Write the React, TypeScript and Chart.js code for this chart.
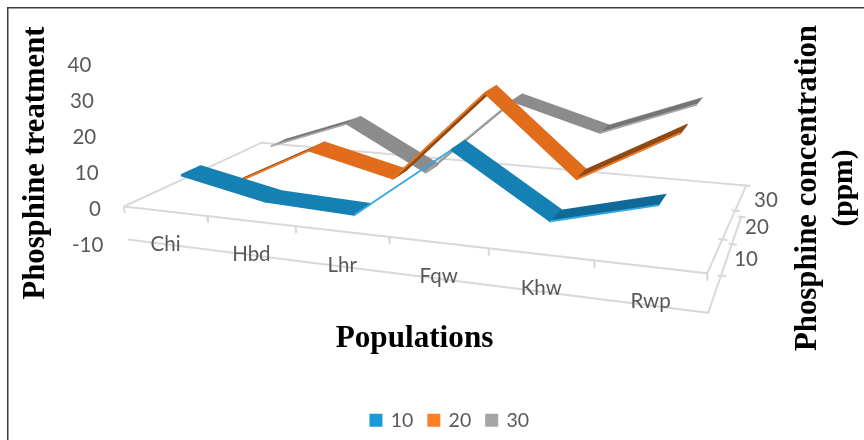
import React, { useEffect, useRef } from "react";
import { Chart, registerables } from "chart.js";

Chart.register(...registerables);

const categories = ["Chi", "Hbd", "Lhr", "Fqw", "Khw", "Rwp"];
const depthNames = ["10", "20", "30"];
const valueTicks = [40, 30, 20, 10, 0, -10];

const series10 = [8.6, 3.3, 2.3, 23.4, 6.3, 13.5];
const series20 = [-2, 11.9, 5.5, 34, 10.5, 26.3];
const series30 = [4.4, 14.4, 0.3, 26, 17.9, 28.8];

const legendColors = ["#1A9BD7", "#FD7F28", "#A5A5A5"];
const fallingShades = ["#1580B4", "#E06C1C", "#8C8C8C"];
const risingShades = ["#0F6A98", "#8F4A14", "#747474"];
const edgeShades = ["#35A8E0", "#F07A24", "#A8A8A8"];
const risingOutline = [0, 1.5, 0.5];

const GRID = "#D9D9D9";
const LABEL = "#595959";
const SANS = "Lato";
const SERIF = '"Liberation Serif"';

// Perspective mapping of the category/depth floor onto the canvas: u runs along
// the categories, v runs into the depth axis, h is the value above the floor.
const G = -0.1664;
const H = 0.2175;
function project(u: number, v: number, h: number) {
  const w = 1 + G * u + H * v;
  const x = (466.2 * u + 195 * v + 124) / w;
  const y = (21.6 * u - 33.1 * v + 206) / w;
  // Verticals lean differently above the floor and on the frame hanging below it.
  const lean = h >= 0 ? 0.02 + 0.25 * u * u : -(4 - 3 * u - 6 * v) / 10;
  return { x: x + lean * h, y: y - (3.3 * h) / w };
}

const uOf = (i: number) => (i + 0.5) / categories.length;

function baseLine(points: { x: number; y: number }[], width = 2, color = GRID) {
  return {
    data: points,
    borderColor: color,
    borderWidth: width,
    backgroundColor: color,
    pointRadius: 0,
    tension: 0,
    fill: false as const,
  };
}

function gridLines() {
  const sets = [
    baseLine([project(0, 0, 0), project(1, 0, 0), project(1, 1, 0), project(0, 1, 0), project(0, 0, 0)]),
    baseLine([project(0, 0, -10), project(1, 0, -10), project(1, 1, -10)]),
  ];
  categories.forEach((_, i) => {
    const u = i / categories.length;
    sets.push(baseLine([project(u, 0, 0), project(u, 0, -2)]));
  });
  sets.push(baseLine([project(1, 0, 0), project(1, 0, -2)]));
  depthNames.forEach((_, i) => {
    const v = (i + 1) / depthNames.length;
    sets.push(baseLine([project(0.994, v, 0), project(1.008, v, 0)]));
    sets.push(baseLine([project(0.994, v, -10), project(1.008, v, -10)]));
  });
  return sets;
}

// One ribbon per series, split into a shaded quad for every category step.
function ribbon(values: number[], index: number) {
  const mid = (index + 0.5) / depthNames.length;
  const front = mid - 0.066;
  const back = mid + 0.066;
  const sets: any[] = [];
  for (let i = 0; i < values.length - 1; i++) {
    const a = values[i];
    const b = values[i + 1];
    const rising = b > a;
    const color = rising ? risingShades[index] : fallingShades[index];
    const lower = [project(uOf(i), front, a), project(uOf(i + 1), front, b)];
    sets.push({
      data: [lower[0], lower[1], project(uOf(i + 1), back, b), project(uOf(i), back, a), lower[0]],
      borderColor: color,
      borderWidth: rising ? risingOutline[index] : 2,
      borderJoinStyle: "round",
      backgroundColor: color,
      pointRadius: 0,
      tension: 0,
      fill: "shape",
    });
    if (rising) sets.push(baseLine(lower, 1.8, edgeShades[index]));
  }
  return sets;
}

function drawRotated(ctx: CanvasRenderingContext2D, text: string, x: number, y: number, font: string) {
  ctx.save();
  ctx.translate(x, y);
  ctx.rotate(-Math.PI / 2);
  ctx.font = font;
  ctx.fillStyle = "#000000";
  ctx.textAlign = "center";
  ctx.textBaseline = "middle";
  ctx.fillText(text, 0, 0);
  ctx.restore();
}

const chartText = {
  id: "chartText",
  beforeDraw(chart: Chart) {
    const { ctx } = chart;
    ctx.save();
    ctx.strokeStyle = "#3A3A3A";
    ctx.lineWidth = 1.5;
    ctx.beginPath();
    ctx.moveTo(7.75, 440);
    ctx.lineTo(7.75, 7.75);
    ctx.lineTo(864, 7.75);
    ctx.stroke();
    ctx.restore();
  },
  afterDraw(chart: Chart) {
    const { ctx } = chart;
    ctx.save();
    ctx.fillStyle = LABEL;
    ctx.font = `20.5px ${SANS}`;
    ctx.textBaseline = "middle";

    ctx.textAlign = "right";
    valueTicks.forEach((tick) => {
      ctx.fillText(String(tick), 101 - 0.24 * tick, 209 - 3.6 * tick);
    });

    ctx.textAlign = "center";
    categories.forEach((name, i) => {
      const u = uOf(i);
      const p = project(u, 0, -10);
      ctx.fillText(name, p.x - 1 - 2.5 * (1 - u), p.y + 0.5 - 4.5 * u);
    });

    ctx.textAlign = "left";
    depthNames.forEach((name, i) => {
      const p = project(1, (i + 0.5) / depthNames.length + 0.17, -10);
      ctx.fillText(name, p.x + 12, p.y - 16);
    });
    ctx.restore();

    drawRotated(ctx, "Phosphine treatment", 36, 163, `bold 30.7px ${SERIF}`);
    drawRotated(ctx, "Phosphine concentration", 808, 188, `bold 30.8px ${SERIF}`);
    drawRotated(ctx, "(ppm)", 844, 188, `bold 29.5px ${SERIF}`);

    ctx.save();
    ctx.font = `bold 31.2px ${SERIF}`;
    ctx.fillStyle = "#000000";
    ctx.textAlign = "center";
    ctx.textBaseline = "middle";
    ctx.fillText("Populations", 414.5, 339);
    ctx.restore();
  },
};

export default function App() {
  const ref = useRef<HTMLCanvasElement>(null);
  useEffect(() => {
    document.body.style.background = "#ffffff";
    const datasets = [
      ...gridLines(),
      ...ribbon(series30, 2),
      ...ribbon(series20, 1),
      ...ribbon(series10, 0),
    ].reverse();
    const chart = new Chart(ref.current!, {
      type: "line",
      data: { datasets },
      plugins: [chartText],
      options: {
        responsive: false,
        animation: false,
        events: [],
        layout: { padding: { left: 36 } },
        scales: {
          x: { type: "linear", min: 36, max: 864, display: false },
          y: { type: "linear", min: 0, max: 400, reverse: true, display: false },
        },
        plugins: {
          tooltip: { enabled: false },
          legend: {
            position: "bottom",
            labels: {
              boxWidth: 10,
              boxHeight: 10,
              padding: 15.5,
              color: LABEL,
              font: { family: SANS, size: 19.5 },
              generateLabels: () =>
                depthNames.map((text, i) => ({
                  text,
                  fillStyle: legendColors[i],
                  strokeStyle: legendColors[i],
                  lineWidth: 3,
                  fontColor: LABEL,
                  datasetIndex: i,
                })),
            },
          },
        },
      } as any,
    });
    // Keep the hidden value scale in canvas units once the legend has taken its room.
    (chart.options.scales as any).y.max = chart.chartArea.bottom;
    chart.update();
    return () => chart.destroy();
  }, []);
  return (
    <div style={{ position: "absolute", left: 0, top: 0, width: 864, height: 440 }}>
      <canvas ref={ref} width={864} height={440} style={{ display: "block" }} />
    </div>
  );
}
